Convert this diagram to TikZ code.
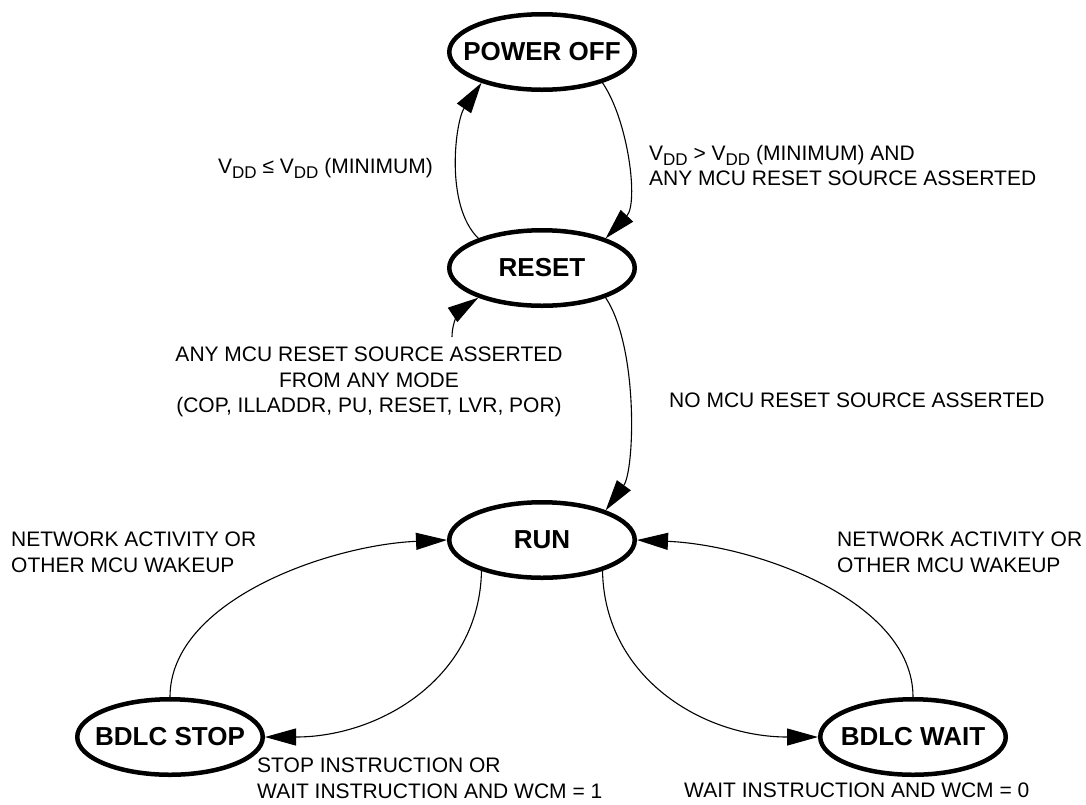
\documentclass[tikz,border=0pt]{standalone}
\usepackage{fontspec}
\setmainfont{Liberation Sans}
\usetikzlibrary{shapes.geometric,arrows.meta}
\newcommand{\myVDD}{V\raisebox{-5pt}{\fontsize{17}{17}\selectfont DD}}
\begin{document}
\begin{tikzpicture}[x=1pt,y=-1pt,
  state/.style={ellipse, draw, line width=4.5pt, minimum width=185.5pt, minimum height=75.5pt,
    inner sep=0pt, font=\fontsize{26}{30}\selectfont\bfseries},
  conn/.style={line width=1.1pt, -{Triangle[length=31pt,width=17pt]}},
  lbl/.style={inner sep=0pt, font=\fontsize{21}{25.5}\selectfont}]
\useasboundingbox (0,0) rectangle (1086,804);

% states
\node[state] (po)    at (542,52)  {\makebox[0pt]{POWER OFF}};
\node[state] (reset) at (542,268) {\makebox[0pt]{RESET}};
\node[state] (run)   at (542,540) {\makebox[0pt]{RUN}};
\node[state] (stop)  at (170,737) {\makebox[0pt]{BDLC STOP}};
\node[state] (wait)  at (913,737) {\makebox[0pt]{BDLC WAIT}};
\coordinate (anysrc) at (452,337);

% connectors
\draw[conn] (reset.155) .. controls +(-34,-33) and +(-26,38) .. (po.207);
\draw[conn] (po.-27) .. controls +(26,38) and +(33,-35) .. (reset.25);
\draw[conn] (reset.-25) .. controls +(33,50) and +(29,-40) .. (run.25);
\draw[conn] (anysrc) .. controls +(0,-19) and +(-15,10) .. (reset.205);
\draw[conn] (stop.north) .. controls +(0,-97) and +(-117,5) .. (run.west);
\draw[conn] (wait.north) .. controls +(0,-97) and +(117,5) .. (run.east);
\draw[conn] (run.207) .. controls +(-2,107) and +(115,0) .. (stop.east);
\draw[conn] (run.-27) .. controls +(2,107) and +(-115,0) .. (wait.west);

% labels
\node[lbl, anchor=base east] (l1) at (433,173) {\myVDD\ ≤ \myVDD\ (MINIMUM)};
\node[lbl, anchor=north west, align=left] (l2) at (649,145)
  {\myVDD\ > \myVDD\ (MINIMUM) AND\\ANY MCU RESET SOURCE ASSERTED};
\node[lbl, anchor=base west] (l3) at (669,407) {NO MCU RESET SOURCE ASSERTED};
\node[lbl, anchor=north, align=center] (l4) at (369,347)
  {ANY MCU RESET SOURCE ASSERTED\\FROM ANY MODE\\(COP, ILLADDR, PU, RESET, LVR, POR)};
\node[lbl, anchor=north west, align=left] (l5) at (11,532)
  {NETWORK ACTIVITY OR\\OTHER MCU WAKEUP};
\node[lbl, anchor=north west, align=left] (l6) at (837,532)
  {NETWORK ACTIVITY OR\\OTHER MCU WAKEUP};
\node[lbl, anchor=north west, align=left] (l7) at (257,758)
  {STOP INSTRUCTION OR\\WAIT INSTRUCTION AND WCM = 1};
\node[lbl, anchor=base west] (l8) at (684,797) {WAIT INSTRUCTION AND WCM = 0};
\end{tikzpicture}
\end{document}
